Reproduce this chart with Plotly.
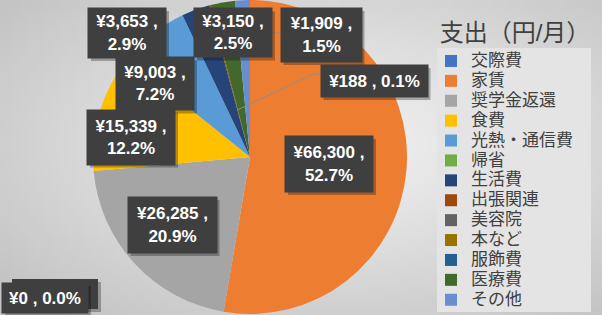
import math, zlib, struct, base64
import numpy as np
import plotly.graph_objects as go

# ---------------- data ----------------
categories = ["交際費", "家賃", "奨学金返還", "食費", "光熱・通信費", "帰省", "生活費",
              "出張関連", "美容院", "本など", "服飾費", "医療費", "その他"]
values = [0, 66300, 26285, 15339, 9003, 0, 3653, 188, 0, 0, 0, 3150, 1909]
colors = ["#4472C4", "#ED7D31", "#A5A5A5", "#FFC000", "#5B9BD5", "#70AD47", "#264478",
          "#9E480E", "#636363", "#997300", "#255E91", "#43682B", "#698ED0"]
legend_title = "支出（円/月）"

W, H = 602, 315
total = sum(values)

# ---------------- background gradient (decoration) ----------------
def make_png(arr):
    h, w, _ = arr.shape
    raw = b"".join(b"\x00" + arr[i].tobytes() for i in range(h))
    def chunk(t, d):
        c = struct.pack(">I", len(d)) + t + d
        return c + struct.pack(">I", zlib.crc32(t + d) & 0xffffffff)
    return (b"\x89PNG\r\n\x1a\n" + chunk(b"IHDR", struct.pack(">IIBBBBB", w, h, 8, 2, 0, 0, 0))
            + chunk(b"IDAT", zlib.compress(raw, 9)) + chunk(b"IEND", b""))

gw, gh = 151, 79
yy, xx = np.mgrid[0:gh, 0:gw]
d = np.sqrt(((xx - gw * 0.55) / (gw / 2)) ** 2 + ((yy - gh * 0.45) / (gh / 2)) ** 2) / math.sqrt(2)
d = np.clip(d, 0, 1)
c = (242 - (242 - 196) * d ** 1.1).astype(np.uint8)
img = np.stack([c, c, c], axis=-1)
bg_src = "data:image/png;base64," + base64.b64encode(make_png(img)).decode()

# ---------------- figure ----------------
R = 157
cx, cy = 250, 157
fig = go.Figure(go.Pie(
    labels=[f'<span style="font-size:17px">{c}</span>' for c in categories],
    values=values, sort=False, direction="clockwise", rotation=0,
    marker=dict(colors=colors, line=dict(width=0)),
    textinfo="none", customdata=categories,
    hovertemplate="%{customdata}: ¥%{value:,}<extra></extra>",
    domain=dict(x=[(cx - R) / W, (cx + R) / W], y=[1 - (cy + R) / H, 1 - (cy - R) / H]),
    showlegend=True,
))

def px(x, y):
    return x / W, 1 - y / H

def label_text(v, one_line=False):
    pct = v / total * 100
    sep = " " if one_line else "<br>"
    return f"¥{v:,} ,{sep}{pct:.1f}%"

# label layout: category index -> (center x px, center y px, box w, box h, one_line, show text)
label_layout = [
    (1, 329, 164, 88, 56, False, True),
    (2, 172, 225, 89, 56, False, True),
    (3, 131, 137, 88, 55, False, True),
    (4, 155, 84, 78, 53, False, True),
    (6, 127, 33, 78, 50, False, True),
    (11, 233, 33, 78, 49, False, True),
    (12, 321, 35, 81, 54, False, True),
    (7, 374, 81, 107, 32, True, True),
    (8, 55, 294, 86, 30, True, False),
    (0, 45, 298, 86, 30, True, True),
]

# leader lines (computed from slice angles)
cum = np.cumsum([0] + values)
def slice_point(i, frac):
    a = math.radians((cum[i] + values[i] / 2) / total * 360)
    return cx + frac * R * math.sin(a), cy - frac * R * math.cos(a)

def rect_shape(x0, y0, x1, y1, fill):
    return dict(type="rect", xref="paper", yref="paper", x0=x0 / W, x1=x1 / W,
                y0=1 - y1 / H, y1=1 - y0 / H, fillcolor=fill, line=dict(width=0), layer="above")

shapes = []
legend_box = rect_shape(437, 48, 591, 312, "#e4e4e4")
legend_box["layer"] = "below"
shapes.append(legend_box)
for idx, bx, by, frac in [(7, 321, 74, 0.31), (12, 281, 33, 0.8)]:
    ex, ey = slice_point(idx, frac)
    x1, y1 = px(bx, by)
    x2, y2 = px(bx - 8, by)
    x3, y3 = px(ex, ey)
    shapes.append(dict(type="path", xref="paper", yref="paper",
                       path=f"M {x1} {y1} L {x2} {y2} L {x3} {y3}",
                       line=dict(color="#8c8c8c", width=1)))

annotations = []
font_lbl = dict(family="Liberation Sans, Noto Sans CJK JP, sans-serif", size=17, color="white", weight="bold")
pad = 4
for idx, lx, ly, bw, bh, one, show in label_layout:
    # drop shadow
    shapes.append(rect_shape(lx - bw / 2 + 3, ly - bh / 2 + 3, lx + bw / 2 + 3, ly + bh / 2 + 3,
                             "rgba(0,0,0,0.28)"))
    if not show:
        shapes.append(rect_shape(lx - bw / 2, ly - bh / 2, lx + bw / 2, ly + bh / 2, "#3f3f3f"))
        continue
    x, y = px(lx, ly)
    annotations.append(dict(
        x=x, y=y, xref="paper", yref="paper", xanchor="center", yanchor="middle",
        text=label_text(values[idx], one), showarrow=False,
        width=bw - 2 * pad, height=bh - 2 * pad, borderpad=pad,
        bgcolor="#3f3f3f", font=font_lbl, align="center", valign="middle"))

fig.update_layout(
    width=W, height=H, margin=dict(l=0, r=0, t=0, b=0),
    paper_bgcolor="#d9d9d9", plot_bgcolor="rgba(0,0,0,0)",
    images=[dict(source=bg_src, xref="paper", yref="paper", x=0, y=1, sizex=1, sizey=1,
                 sizing="stretch", layer="below", xanchor="left", yanchor="top")],
    legend=dict(x=431 / W, y=1 - 8 / H, xanchor="left", yanchor="top",
                bgcolor="rgba(0,0,0,0)", traceorder="normal",
                font=dict(family="Liberation Sans, Noto Sans CJK JP, sans-serif", size=13, color="#404040"),
                title=dict(text=f'<span style="font-size:24px;baseline-shift:5px">&nbsp;{legend_title}</span>',
                           side="top",
                           font=dict(family="Liberation Sans, Noto Sans CJK JP, sans-serif", size=30,
                                     color="#404040")),
                itemclick=False, itemdoubleclick=False),
    shapes=shapes, annotations=annotations,
)

fig.write_html("out.html")
